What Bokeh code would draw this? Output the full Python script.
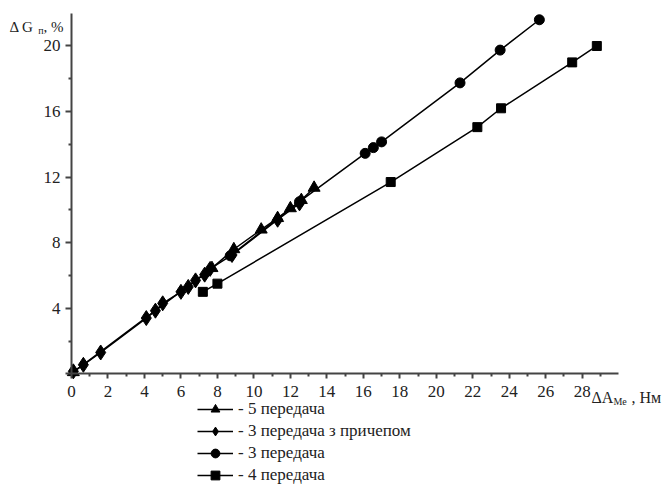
from bokeh.plotting import figure
from bokeh.models import Range1d, FixedTicker, Label, Legend, LegendItem, LinearAxis
from bokeh.embed import file_html
from bokeh.resources import INLINE

# 5 передача (triangles)
tri_x = [0.1, 7.7, 8.9, 10.4, 11.3, 12.0, 12.6, 13.3]
tri_y = [0.1, 6.45, 7.6, 8.8, 9.5, 10.1, 10.6, 11.35]
# 3 передача з причепом (diamonds)
dia_x = [0.1, 0.65, 1.6, 4.1, 4.6, 5.0, 6.0, 6.4, 6.8, 7.3, 7.6, 8.8, 11.3, 12.5]
dia_y = [0.15, 0.55, 1.3, 3.4, 3.85, 4.3, 5.0, 5.3, 5.7, 6.05, 6.4, 7.25, 9.4, 10.4]
# 3 передача (circles)
circ_x = [8.7, 12.5, 16.1, 16.55, 17.0, 21.3, 23.5, 25.65]
circ_y = [7.2, 10.5, 13.45, 13.8, 14.15, 17.75, 19.75, 21.6]
# 4 передача (squares)
sq_x = [7.2, 8.0, 17.5, 22.25, 23.55, 27.45, 28.8]
sq_y = [5.0, 5.5, 11.7, 15.05, 16.2, 19.0, 20.0]

series_labels = ["- 5 передача", "- 3 передача з причепом", "- 3 передача", "- 4 передача"]
x_ticks = [0, 2, 4, 6, 8, 10, 12, 14, 16, 18, 20, 22, 24, 26, 28]
x_minor = [1, 3, 5, 7, 9, 11, 13, 15, 17, 19, 21, 23, 25, 27, 29]
y_ticks = [0, 4, 8, 12, 16, 20]
y_minor = [2, 6, 10, 14, 18]

FONT = "Liberation Serif"
W, H = 668, 486

p = figure(width=W, height=H, output_backend="svg", toolbar_location=None,
           x_range=Range1d(-3.893, 32.73), y_range=Range1d(-6.876, 22.776),
           x_axis_type=None, y_axis_type=None,
           min_border_left=0, min_border_right=0, min_border_top=0, min_border_bottom=0)
p.outline_line_color = None
p.background_fill_color = "white"

xax = LinearAxis(fixed_location=0, bounds=(0, 30),
                 ticker=FixedTicker(ticks=x_ticks, minor_ticks=x_minor))
yax = LinearAxis(fixed_location=0, bounds=(0, 22),
                 ticker=FixedTicker(ticks=y_ticks, minor_ticks=y_minor))
for ax in (xax, yax):
    ax.axis_line_color = "#444444"
    ax.axis_line_width = 2
    ax.major_tick_line_color = "#444444"
    ax.major_tick_line_width = 2
    ax.minor_tick_line_color = "#444444"
    ax.minor_tick_line_width = 2
    ax.major_tick_in = 0
    ax.minor_tick_in = 0
    ax.minor_tick_out = 3
    ax.major_label_text_font = FONT
    ax.major_label_text_font_size = "17px"
    ax.major_label_text_color = "#222222"
xax.major_tick_out = 5
xax.major_label_standoff = 7
yax.major_tick_out = 6
yax.major_label_standoff = 5
yax.major_label_overrides = {0: ""}
p.add_layout(xax, "below")
p.add_layout(yax, "left")

def series(xs, ys, marker, size):
    l = p.line(xs, ys, line_color="black", line_width=1.5)
    s = p.scatter(xs, ys, marker=marker, size=size, fill_color="black", line_color="black")
    return [l, s]

r_tri = series(tri_x, tri_y, "triangle", 12)
r_dia = series(dia_x, dia_y, "diamond", 15)
r_circ = series(circ_x, circ_y, "circle", 10)
r_sq = series(sq_x, sq_y, "square", 9)

legend = Legend(items=[LegendItem(label=series_labels[0], renderers=r_tri),
                       LegendItem(label=series_labels[1], renderers=r_dia),
                       LegendItem(label=series_labels[2], renderers=r_circ),
                       LegendItem(label=series_labels[3], renderers=r_sq)],
                location=(197, 0), padding=0, margin=0, spacing=0,
                glyph_width=36, glyph_height=22, label_height=22, label_standoff=5,
                label_text_font=FONT, label_text_font_size="17px", label_text_color="#222222",
                border_line_color=None, background_fill_alpha=0)
p.add_layout(legend)

def lab(x, y, t, size="15px"):
    p.add_layout(Label(x=x, y=y, text=t, text_font=FONT, text_font_size=size,
                       text_color="#222222", text_align="left", text_baseline="alphabetic"))

# y axis title: ΔG_п, %
lab(-3.40, 21.15, "Δ G")
lab(-1.83, 20.95, "п", "10px")
lab(-1.535, 21.15, ", %")
# x axis title: ΔA_Me, Нм
lab(28.51, -1.446, "ΔA", "16px")
lab(29.71, -1.69, "Me", "10px")
lab(30.70, -1.446, ", Нм", "16px")

open("out.html", "w").write(file_html(p, INLINE))
